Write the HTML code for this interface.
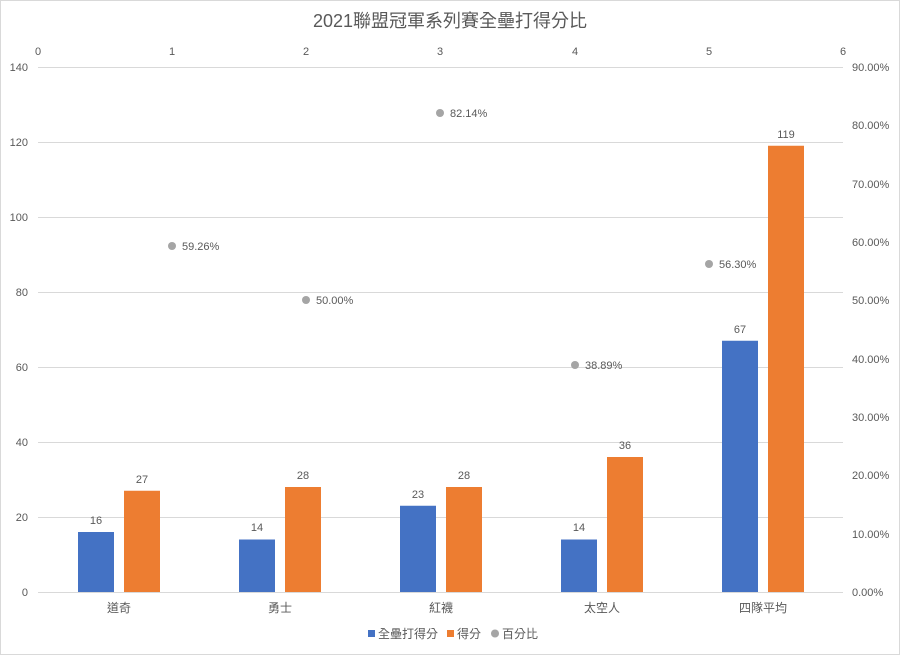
<!DOCTYPE html><html><head><meta charset="utf-8"><style>body{margin:0;background:#fff}svg{display:block}text{font-family:"Liberation Sans","Noto Sans CJK TC",sans-serif;fill:#595959}</style></head><body>
<svg width="900" height="655" xmlns="http://www.w3.org/2000/svg">
<rect x="0.5" y="0.5" width="899" height="654" fill="#fff" stroke="#d9d9d9"/>
<text x="450" y="27" font-size="18" text-anchor="middle">2021聯盟冠軍系列賽全壘打得分比</text>
<g stroke="#d9d9d9" stroke-width="1">
<line x1="38" x2="843" y1="67.5" y2="67.5"/><line x1="38" x2="843" y1="142.5" y2="142.5"/><line x1="38" x2="843" y1="217.5" y2="217.5"/><line x1="38" x2="843" y1="292.5" y2="292.5"/><line x1="38" x2="843" y1="367.5" y2="367.5"/><line x1="38" x2="843" y1="442.5" y2="442.5"/><line x1="38" x2="843" y1="517.5" y2="517.5"/><line x1="38" x2="843" y1="592.5" y2="592.5"/>
</g>
<g font-size="11" text-anchor="end">
<text x="28" y="596">0</text><text x="28" y="521">20</text><text x="28" y="446">40</text><text x="28" y="371">60</text><text x="28" y="296">80</text><text x="28" y="221">100</text><text x="28" y="146">120</text><text x="28" y="71">140</text>
</g>
<g font-size="11" text-anchor="start">
<text x="852" y="596">0.00%</text><text x="852" y="538">10.00%</text><text x="852" y="479">20.00%</text><text x="852" y="421">30.00%</text><text x="852" y="363">40.00%</text><text x="852" y="304">50.00%</text><text x="852" y="246">60.00%</text><text x="852" y="188">70.00%</text><text x="852" y="129">80.00%</text><text x="852" y="71">90.00%</text>
</g>
<g font-size="11" text-anchor="middle">
<text x="38" y="55">0</text><text x="172" y="55">1</text><text x="306" y="55">2</text><text x="440" y="55">3</text><text x="575" y="55">4</text><text x="709" y="55">5</text><text x="843" y="55">6</text>
</g>
<g fill="#4472c4">
<rect x="78" y="532" width="36" height="60"/><rect x="239" y="539.5" width="36" height="52.5"/><rect x="400" y="505.75" width="36" height="86.25"/><rect x="561" y="539.5" width="36" height="52.5"/><rect x="722" y="340.75" width="36" height="251.25"/>
</g>
<g fill="#ed7d31">
<rect x="124" y="490.75" width="36" height="101.25"/><rect x="285" y="487" width="36" height="105"/><rect x="446" y="487" width="36" height="105"/><rect x="607" y="457" width="36" height="135"/><rect x="768" y="145.75" width="36" height="446.25"/>
</g>
<g font-size="11" text-anchor="middle" style="fill:#404040">
<text x="96" y="524">16</text><text x="142" y="483">27</text><text x="257" y="531">14</text><text x="303" y="479">28</text><text x="418" y="498">23</text><text x="464" y="479">28</text><text x="579" y="531">14</text><text x="625" y="449">36</text><text x="740" y="333">67</text><text x="786" y="138">119</text>
</g>
<g fill="#a5a5a5">
<circle cx="172" cy="246" r="4"/><circle cx="306" cy="300" r="4"/><circle cx="440" cy="113" r="4"/><circle cx="575" cy="365" r="4"/><circle cx="709" cy="264" r="4"/>
</g>
<g font-size="11" style="fill:#404040">
<text x="182" y="250">59.26%</text><text x="316" y="304">50.00%</text><text x="450" y="117">82.14%</text><text x="585" y="369">38.89%</text><text x="719" y="268">56.30%</text>
</g>
<g font-size="12" text-anchor="middle">
<text x="119" y="612">道奇</text><text x="280" y="612">勇士</text><text x="441" y="612">紅襪</text><text x="602" y="612">太空人</text><text x="763" y="612">四隊平均</text>
</g>
<g font-size="12">
<rect x="368" y="630" width="7" height="7" fill="#4472c4"/><text x="378" y="638">全壘打得分</text>
<rect x="447" y="630" width="7" height="7" fill="#ed7d31"/><text x="457" y="638">得分</text>
<circle cx="495" cy="633.5" r="4" fill="#a5a5a5"/><text x="502" y="638">百分比</text>
</g>
</svg></body></html>
